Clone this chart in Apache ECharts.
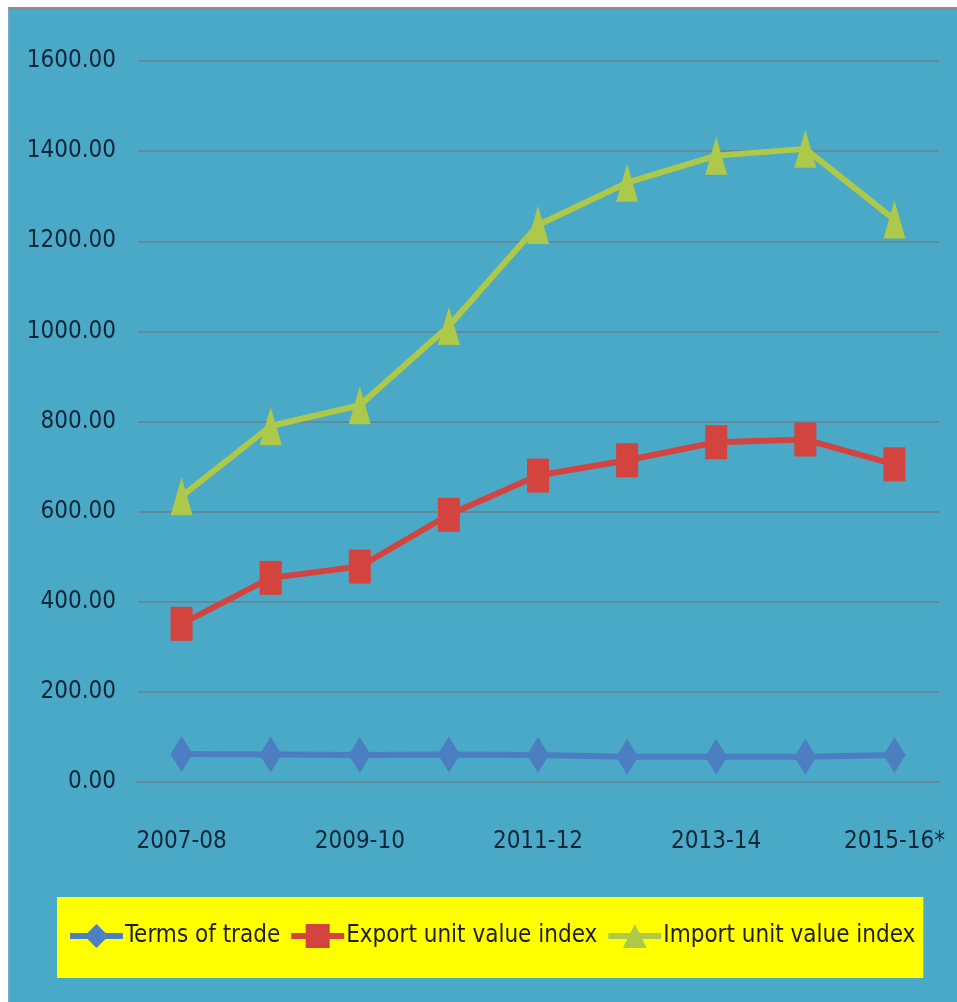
<!DOCTYPE html>
<html>
<head>
<meta charset="utf-8">
<script src="https://cdn.jsdelivr.net/npm/echarts@6/dist/echarts.min.js"></script>
<style>
  html, body { margin: 0; padding: 0; width: 957px; height: 1002px; background: #ffffff; overflow: hidden; }
  #frame { position: absolute; left: 8px; top: 7px; right: 0; bottom: 0; background: #49A9C6; border-top: 3px solid #8C8C8C; border-left: 2px solid #6FA8B8; }
  #chart { position: absolute; left: 0; top: 0; width: 957px; height: 1002px; }
</style>
</head>
<body>
<div id="frame"></div>
<div id="chart"></div>
<script>
const categories = ['2007-08', '2008-09', '2009-10', '2010-11', '2011-12', '2012-13', '2013-14', '2014-15', '2015-16*'];
const termsOfTrade = [62, 61, 60, 61, 60, 56, 56, 56, 60];
const exportUnitValueIndex = [351, 453, 478, 593, 680, 714, 754, 760, 705];
const importUnitValueIndex = [634, 790, 836, 1012, 1236, 1330, 1390, 1405, 1248];
const yTicks = { min: 0, max: 1600, interval: 200 };

const FONT = "'Liberation Sans Narrow', 'DejaVu Sans Condensed', 'Arial Narrow', sans-serif";
const chart = echarts.init(document.getElementById('chart'), null, { renderer: 'canvas' });

function lineSeries(name, data, color, symbol, size) {
  return {
    name: name,
    type: 'line',
    data: data,
    symbol: symbol,
    symbolSize: size,
    showAllSymbol: true,
    lineStyle: { color: color, width: 6 },
    itemStyle: { color: color, borderWidth: 0 },
    emphasis: { disabled: true },
    z: 3
  };
}

chart.setOption({
  backgroundColor: 'transparent',
  animation: false,
  grid: { left: 137, right: 18, top: 61, bottom: 220, containLabel: false },
  xAxis: {
    type: 'category',
    data: categories,
    boundaryGap: true,
    axisLine: { show: true, lineStyle: { color: '#5E8C9E', width: 2 } },
    axisTick: { show: false },
    axisLabel: {
      interval: 1,
      color: '#0E2638',
      fontFamily: FONT,
      fontSize: 24,
      margin: 48
    },
    splitLine: { show: false }
  },
  yAxis: {
    type: 'value',
    min: yTicks.min,
    max: yTicks.max,
    interval: yTicks.interval,
    axisLine: { show: true, lineStyle: { color: '#5FA3BA', width: 1 } },
    axisTick: { show: false },
    axisLabel: {
      color: '#0E2638',
      fontFamily: FONT,
      fontSize: 24,
      margin: 21,
      formatter: v => v.toFixed(2)
    },
    splitLine: { show: true, lineStyle: { color: '#5E8C9E', width: 2 } }
  },
  legend: {
    left: 57,
    top: 897,
    padding: [27, 8, 30, 10],
    backgroundColor: '#FFFF00',
    itemWidth: 53,
    itemHeight: 30,
    itemGap: 8,
    lineStyle: { width: 6 },
    textStyle: { color: '#1F1F10', fontFamily: FONT, fontSize: 24, padding: [0, 0, 0, -3] },
    selectedMode: false,
    data: ['Terms of trade', 'Export unit value index', 'Import unit value index']
  },
  series: [
    lineSeries('Terms of trade', termsOfTrade, '#4C7FC2', 'diamond', [22, 36]),
    lineSeries('Export unit value index', exportUnitValueIndex, '#D4443F', 'rect', [22, 34]),
    lineSeries('Import unit value index', importUnitValueIndex, '#AEC84A', 'triangle', [22, 38])
  ]
});
</script>
</body>
</html>
